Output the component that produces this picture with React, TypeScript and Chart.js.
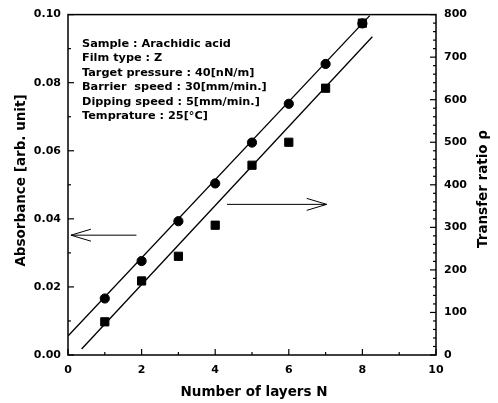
import React, { useEffect, useRef } from "react";
import { Chart, registerables } from "chart.js";
Chart.register(...registerables);

const layers = [1, 2, 3, 4, 5, 6, 7, 8];
const absorbance = [0.0166, 0.0276, 0.0393, 0.0504, 0.0624, 0.0738, 0.0855, 0.0974];
const transferRatio = [78, 174, 232, 305, 446, 500, 627, 780];
const absFitX = [0, 8.2];
const absFitY = [0.0056, 0.0997];
const trFitX = [0.37, 8.27];
const trFitY = [14, 748];
const leftArrowX = [1.86, 0.08];
const leftArrowY = 0.0352;
const rightArrowX = [4.32, 7.03];
const rightArrowY = 354;
const annotationLines = [
  "Sample : Arachidic acid",
  "Film type : Z",
  "Target pressure : 40[nN/m]",
  "Barrier  speed : 30[mm/min.]",
  "Dipping speed : 5[mm/min.]",
  "Temprature : 25[°C]",
];
const xTitle = "Number of layers N";
const yTitle = "Absorbance [arb. unit]";
const y1Title = "Transfer ratio ρ";

const FONT = "'DejaVu Sans', 'Liberation Sans', Arial, sans-serif";

function arrow(ctx: CanvasRenderingContext2D, x0: number, y0: number, x1: number, y1: number) {
  const dir = Math.sign(x1 - x0);
  ctx.beginPath();
  ctx.moveTo(x0, y0);
  ctx.lineTo(x1, y1);
  ctx.moveTo(x1 - dir * 20, y1 - 6);
  ctx.lineTo(x1, y1);
  ctx.lineTo(x1 - dir * 20, y1 + 6);
  ctx.stroke();
}

const decor = {
  id: "decor",
  afterDraw(chart: any) {
    const { ctx, chartArea: a, scales } = chart;
    const x = scales.x, y = scales.y, y1 = scales.y1;
    ctx.save();
    ctx.strokeStyle = "#000";
    ctx.fillStyle = "#000";
    ctx.lineWidth = 1.5;
    ctx.strokeRect(a.left, a.top, a.right - a.left, a.bottom - a.top);
    ctx.lineWidth = 1.2;
    for (let v = 0; v <= 10; v += 1) {
      const px = x.getPixelForValue(v);
      const len = v % 2 === 0 ? 6 : 3;
      ctx.beginPath();
      ctx.moveTo(px, a.bottom);
      ctx.lineTo(px, a.bottom - len);
      ctx.stroke();
    }
    for (let i = 0; i <= 10; i++) {
      const py = y.getPixelForValue(i * 0.01);
      const len = i % 2 === 0 ? 6 : 3;
      ctx.beginPath();
      ctx.moveTo(a.left, py);
      ctx.lineTo(a.left + len, py);
      ctx.stroke();
    }
    for (let v = 0; v <= 800; v += 20) {
      const py = y1.getPixelForValue(v);
      const len = v % 100 === 0 ? 6 : 3;
      ctx.beginPath();
      ctx.moveTo(a.right, py);
      ctx.lineTo(a.right - len, py);
      ctx.stroke();
    }
    ctx.lineWidth = 1;
    arrow(ctx, x.getPixelForValue(leftArrowX[0]), y.getPixelForValue(leftArrowY), x.getPixelForValue(leftArrowX[1]), y.getPixelForValue(leftArrowY));
    arrow(ctx, x.getPixelForValue(rightArrowX[0]), y1.getPixelForValue(rightArrowY), x.getPixelForValue(rightArrowX[1]), y1.getPixelForValue(rightArrowY));
    ctx.font = `bold 11.3px ${FONT}`;
    ctx.textAlign = "left";
    ctx.textBaseline = "middle";
    annotationLines.forEach((t, i) => {
      ctx.fillText(t, a.left + 14, a.top + 29 + i * 14.5);
    });
    ctx.font = `bold 13.5px ${FONT}`;
    ctx.textAlign = "center";
    ctx.fillText(xTitle, 254, 392);
    ctx.save();
    ctx.translate(21, 180.5);
    ctx.rotate(-Math.PI / 2);
    ctx.fillText(yTitle, 0, 0);
    ctx.restore();
    ctx.save();
    ctx.translate(483, 189);
    ctx.rotate(-Math.PI / 2);
    ctx.fillText(y1Title, 0, 0);
    ctx.restore();
    ctx.restore();
  },
};

export default function App() {
  const ref = useRef<HTMLCanvasElement>(null);
  useEffect(() => {
    const tickFont = { family: FONT, size: 11, weight: "bold" as const };
    const chart = new Chart(ref.current!, {
      type: "scatter",
      data: {
        datasets: [
          {
            data: absFitX.map((v, i) => ({ x: v, y: absFitY[i] })),
            yAxisID: "y",
            showLine: true,
            borderColor: "#000",
            borderWidth: 1.3,
            pointRadius: 0,
          },
          {
            data: trFitX.map((v, i) => ({ x: v, y: trFitY[i] })),
            yAxisID: "y1",
            showLine: true,
            borderColor: "#000",
            borderWidth: 1.3,
            pointRadius: 0,
          },
          {
            data: layers.map((v, i) => ({ x: v, y: absorbance[i] })),
            yAxisID: "y",
            pointStyle: "circle",
            pointRadius: 4.6,
            backgroundColor: "#000",
            borderColor: "#000",
          },
          {
            data: layers.map((v, i) => ({ x: v, y: transferRatio[i] })),
            yAxisID: "y1",
            pointStyle: "rect",
            pointRadius: 5.8,
            backgroundColor: "#000",
            borderColor: "#000",
          },
        ],
      },
      options: {
        responsive: false,
        animation: false,
        layout: { padding: { top: 14, left: 0, right: 0, bottom: 0 } },
        plugins: { legend: { display: false }, tooltip: { enabled: false } },
        scales: {
          x: {
            type: "linear",
            min: 0,
            max: 10,
            grid: { display: false, drawTicks: false },
            border: { display: false },
            ticks: { stepSize: 2, padding: 9, color: "#000", font: tickFont, maxRotation: 0 },
            afterFit: (s: any) => { s.height = 48; },
          },
          y: {
            position: "left",
            min: 0,
            max: 0.1,
            grid: { display: false, drawTicks: false },
            border: { display: false },
            ticks: { stepSize: 0.02, padding: 7, color: "#000", font: tickFont, callback: (v: any) => Number(v).toFixed(2) },
            afterFit: (s: any) => { s.width = 68; },
          },
          y1: {
            position: "right",
            min: 0,
            max: 800,
            grid: { display: false, drawTicks: false },
            border: { display: false },
            ticks: { stepSize: 100, padding: 8, color: "#000", font: tickFont },
            afterFit: (s: any) => { s.width = 62; },
          },
        },
      },
      plugins: [decor],
    });
    return () => chart.destroy();
  }, []);
  return (
    <div style={{ position: "fixed", left: 0, top: 0, width: 498, height: 403, background: "#fff" }}>
      <canvas ref={ref} width={498} height={403} style={{ width: 498, height: 403 }} />
    </div>
  );
}
